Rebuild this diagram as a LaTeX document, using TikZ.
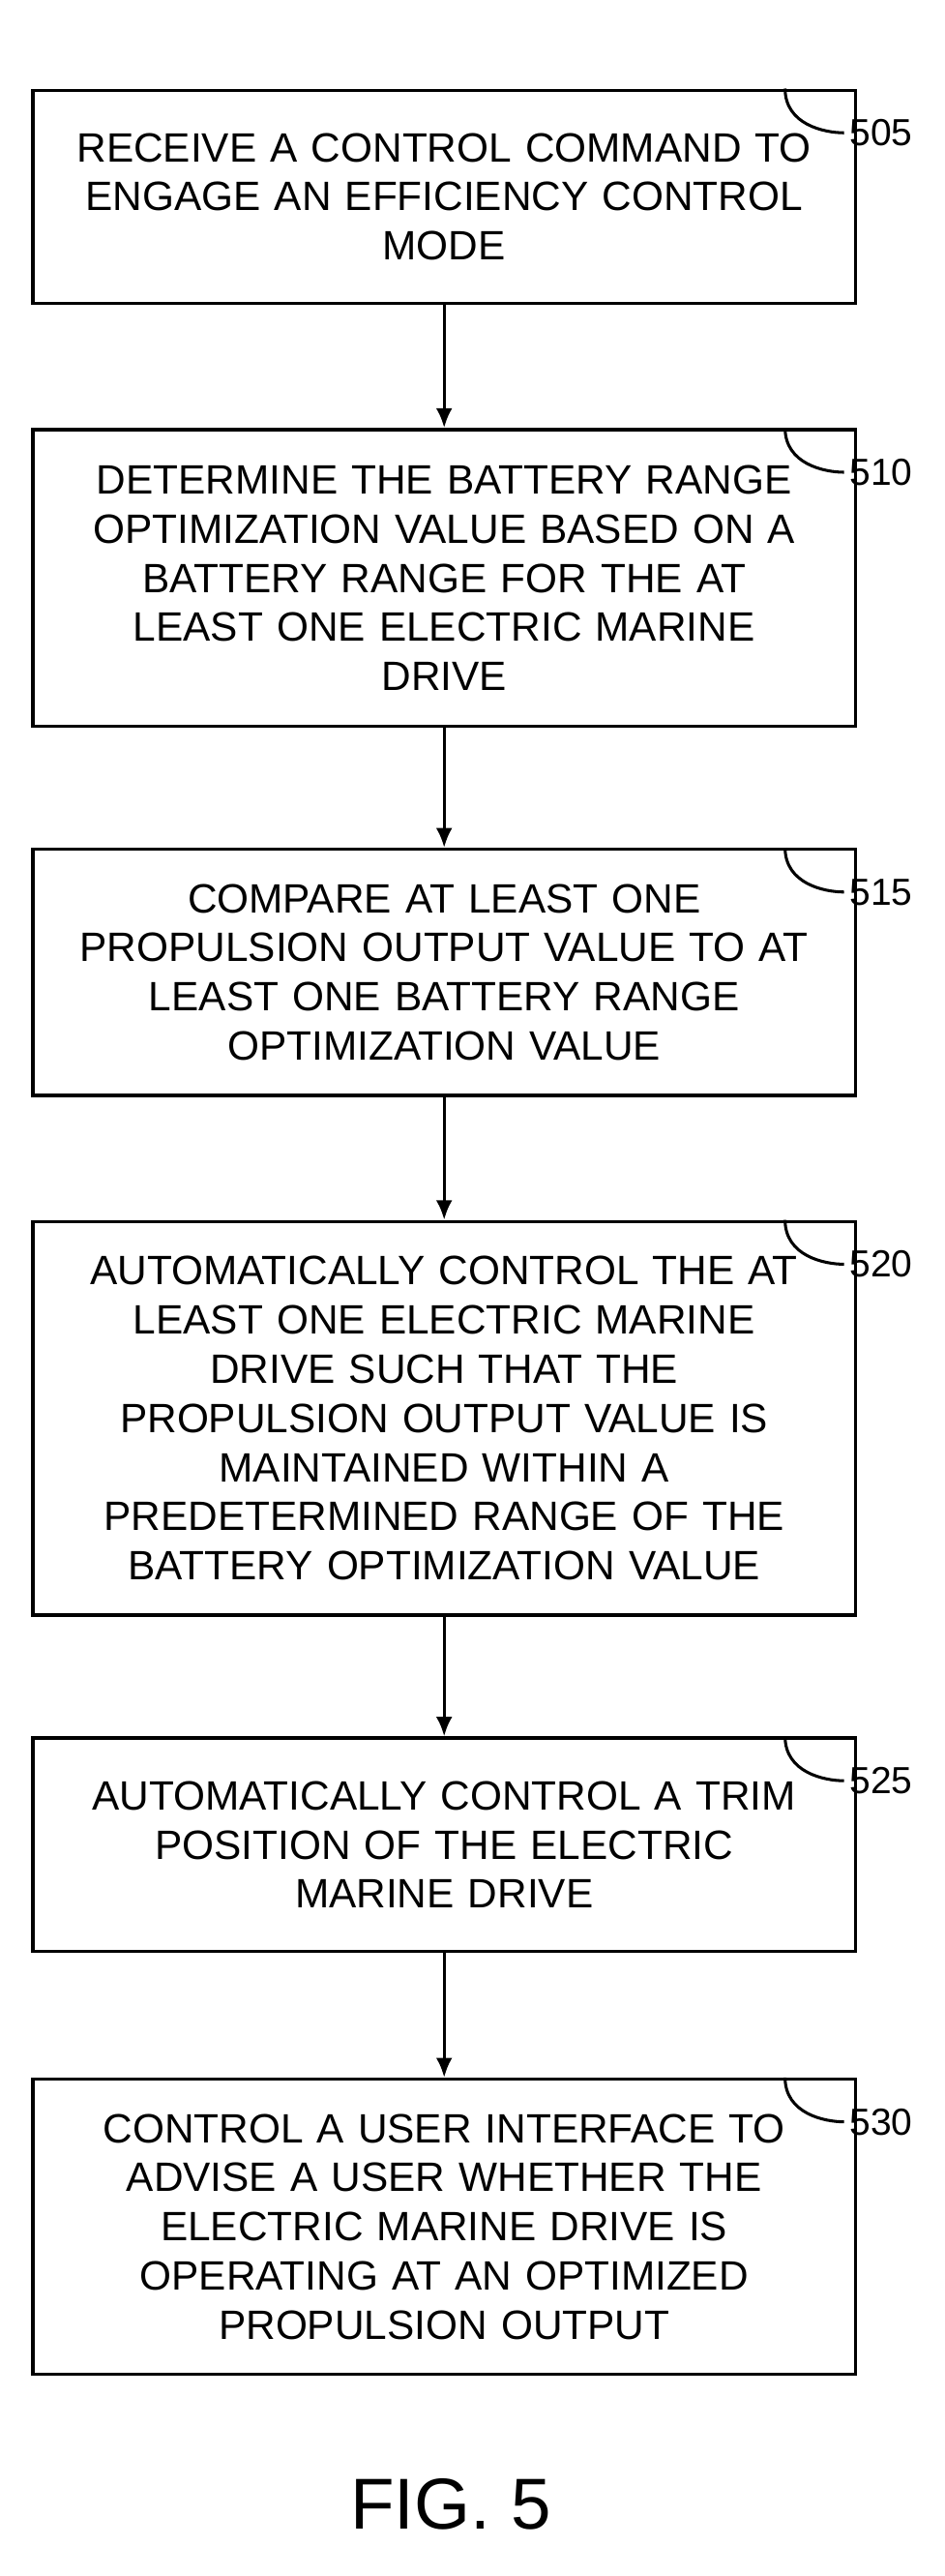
\documentclass[tikz,border=0pt]{standalone}
\usepackage{fontspec}
\setmainfont{Liberation Sans}
\usetikzlibrary{positioning,arrows.meta}
\tikzset{
  box/.style={draw, line width=2pt, minimum width=502pt, text width=495pt, align=center,
    font=\fontsize{25}{30}\selectfont, inner sep=0pt},
  tag/.style={font=\fontsize{23}{26}\selectfont, anchor=west},
  flow/.style={line width=2pt, -{Latex[length=12pt,width=10pt]}}
}
\begin{document}
\begin{tikzpicture}[x=1pt,y=-1pt]
\useasboundingbox (0,0) rectangle (576,1571);
\node[box, minimum height=130pt] (s505) at (271,120) {RECEIVE A CONTROL COMMAND TO\\ ENGAGE AN EFFICIENCY CONTROL\\ MODE};
\node[box, minimum height=181pt] (s510) at (271,352.5) {DETERMINE THE BATTERY RANGE\\ OPTIMIZATION VALUE BASED ON A\\ BATTERY RANGE FOR THE AT\\ LEAST ONE ELECTRIC MARINE\\ DRIVE};
\node[box, minimum height=150pt] (s515) at (271,593) {COMPARE AT LEAST ONE\\ PROPULSION OUTPUT VALUE TO AT\\ LEAST ONE BATTERY RANGE\\ OPTIMIZATION VALUE};
\node[box, minimum height=240pt] (s520) at (271,865) {AUTOMATICALLY CONTROL THE AT\\ LEAST ONE ELECTRIC MARINE\\ DRIVE SUCH THAT THE\\ PROPULSION OUTPUT VALUE IS\\ MAINTAINED WITHIN A\\ PREDETERMINED RANGE OF THE\\ BATTERY OPTIMIZATION VALUE};
\node[box, minimum height=130pt] (s525) at (271,1125) {AUTOMATICALLY CONTROL A TRIM\\ POSITION OF THE ELECTRIC\\ MARINE DRIVE};
\node[box, minimum height=180pt] (s530) at (271,1358) {CONTROL A USER INTERFACE TO\\ ADVISE A USER WHETHER THE\\ ELECTRIC MARINE DRIVE IS\\ OPERATING AT AN OPTIMIZED\\ PROPULSION OUTPUT};
% step numbers with leaders
\foreach \s/\t in {s505/505,s510/510,s515/515,s520/520,s525/525,s530/530}{
  \coordinate (c\t) at ([xshift=-44pt]\s.north east);
  \node[tag] (n\t) at ([xshift=-8pt,yshift=-27pt]\s.north east) {\t};
  \draw[line width=1.8pt] (c\t) .. controls ([yshift=-22pt]c\t) and ([xshift=-12pt]n\t.west) .. (n\t.west);
}
\draw[flow] (s505) -- (s510);
\draw[flow] (s510) -- (s515);
\draw[flow] (s515) -- (s520);
\draw[flow] (s520) -- (s525);
\draw[flow] (s525) -- (s530);
\node[font=\fontsize{44}{50}\selectfont] (fig) at (275,1527) {FIG. 5};
\end{tikzpicture}
\end{document}
